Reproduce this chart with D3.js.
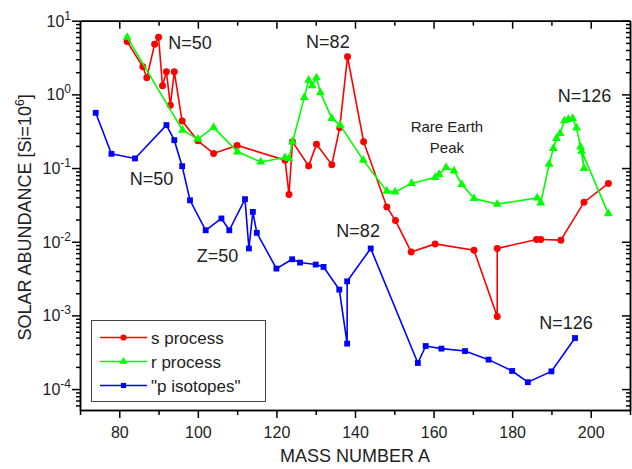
<!DOCTYPE html>
<html><head><meta charset="utf-8">
<script src="https://cdn.jsdelivr.net/npm/d3@7"></script>
<style>
body{margin:0;background:#fff}
svg{display:block;font-family:Arial,"Liberation Sans",Helvetica,sans-serif}
</style>
</head><body>
<svg id="chart" width="632" height="469"></svg>
<script>
// ---- data ----
const sMass   = [82, 86, 87, 89, 90, 91, 92, 93, 94, 96, 100, 104, 110, 122.2, 123.2, 124.1, 128.2, 130.2, 134.1, 136.1, 138.1, 142.2, 148.1, 150.3, 154.3, 160.4, 170.3, 176.2, 176.2, 186.2, 187.3, 192.4, 198.3, 204.5];
const sValues = [5.2, 2.37, 1.68, 4.78, 5.95, 1.31, 2.03, 0.71, 2.03, 0.434, 0.234, 0.158, 0.203, 0.128, 0.0438, 0.227, 0.107, 0.211, 0.111, 0.351, 3.24, 0.227, 0.0297, 0.0194, 0.00726, 0.00933, 0.00766, 0.000964, 0.0081, 0.0107, 0.0107, 0.0105, 0.0344, 0.0618];

const rMass   = [82, 96.1, 100, 104, 110.1, 116, 122.2, 123.2, 124.1, 127.1, 128.2, 129.1, 130.2, 131.2, 134.1, 136.2, 142.1, 148.1, 150.2, 154.4, 160.4, 161.4, 163.2, 165.2, 167.2, 170.3, 176.2, 186.4, 187.3, 189.4, 190.5, 191.3, 192.2, 193.3, 194.3, 195.4, 196.4, 197.4, 198.3, 197.7, 204.5];
const rValues = [5.95, 0.327, 0.247, 0.356, 0.166, 0.121, 0.139, 0.135, 0.227, 0.91, 1.56, 1.31, 1.68, 1.05, 0.472, 0.383, 0.128, 0.0485, 0.0475, 0.0618, 0.0745, 0.0819, 0.102, 0.0917, 0.0598, 0.0386, 0.0324, 0.0393, 0.0337, 0.113, 0.185, 0.252, 0.295, 0.438, 0.457, 0.472, 0.351, 0.194, 0.0989, 0.17, 0.0241];

const pMass   = [74, 78, 84, 92, 94, 96, 98, 102, 106, 108, 112, 113, 114, 115, 120, 124, 126, 130, 132, 136, 138, 138, 144, 156, 158, 162, 168, 174, 180, 184, 190, 196];
const pValues = [0.562, 0.156, 0.135, 0.383, 0.239, 0.106, 0.0365, 0.0143, 0.0207, 0.0143, 0.0378, 0.0081, 0.0254, 0.0132, 0.00432, 0.00578, 0.00521, 0.0049, 0.00455, 0.00224, 0.000414, 0.0029, 0.0081, 0.000226, 0.000384, 0.000354, 0.000328, 0.000251, 0.000176, 0.000124, 0.000174, 0.000493];

const xTicks      = [80, 100, 120, 140, 160, 180, 200];
const xMinorTicks = [70, 90, 110, 130, 150, 170, 190, 210];
const yExponents  = [1, 0, -1, -2, -3, -4];

const seriesNames  = ["s process", "r process", "\"p isotopes\""];
const seriesColors = ["#ff0000", "#00ff00", "#0000ff"];

const noteTexts  = ["N=50", "N=82", "N=126", "Rare Earth", "Peak", "N=50", "Z=50", "N=82", "N=126"];
const noteMass   = [98.0, 133.1, 198.4, 163.4, 163.4, 88.2, 105.0, 140.8, 193.7];
const noteValues = [4.98, 5.14, 0.978, 0.36, 0.192, 0.073, 0.00656, 0.0143, 0.000805];

// ---- layout ----
const L = 80, R = 630, T = 20.7, B = 410;
const svg = d3.select("#chart");
const x = d3.scaleLinear().domain([70, 210]).range([L, R]);
const y = d3.scaleLog().domain([5.2e-5, 10]).range([B, T]);

const yMinor = [];
for (let e = -5; e <= 0; e++) for (let m = 2; m <= 9; m++) {
  const v = m * Math.pow(10, e);
  if (v >= 5.2e-5 && v <= 10) yMinor.push(v);
}
const yMajor = yExponents.map(e => Math.pow(10, e));

// bottom axis
const gBottom = svg.append("g").attr("transform", `translate(0,${B})`)
  .call(d3.axisBottom(x).tickValues(xTicks).tickSize(8).tickSizeOuter(0).tickFormat(d3.format("d")));
gBottom.append("g").call(d3.axisBottom(x).tickValues(xMinorTicks).tickSize(5).tickSizeOuter(0).tickFormat(""));
// top axis (inward)
const gTop = svg.append("g").attr("transform", `translate(0,${T})`)
  .call(d3.axisBottom(x).tickValues(xTicks).tickSize(8).tickSizeOuter(0).tickFormat(""));
gTop.append("g").call(d3.axisBottom(x).tickValues(xMinorTicks.filter(d => d > 70 && d < 210)).tickSize(5).tickSizeOuter(0).tickFormat(""));
// left axis
const gLeft = svg.append("g").attr("transform", `translate(${L},0)`)
  .call(d3.axisLeft(y).tickValues(yMajor).tickSize(8).tickSizeOuter(0).tickFormat(""));
gLeft.append("g").call(d3.axisLeft(y).tickValues(yMinor).tickSize(4).tickSizeOuter(0).tickFormat(""));
// right axis (inward)
const gRight = svg.append("g").attr("transform", `translate(${R},0)`)
  .call(d3.axisLeft(y).tickValues(yMajor).tickSize(8).tickSizeOuter(0).tickFormat(""));
gRight.append("g").call(d3.axisLeft(y).tickValues(yMinor).tickSize(4).tickSizeOuter(0).tickFormat(""));

svg.selectAll(".domain").attr("stroke", "#000").attr("stroke-width", 1.5);
svg.selectAll(".tick line").attr("stroke", "#000").attr("stroke-width", 1.5);
gBottom.selectAll(".tick text").attr("font-size", 16).attr("font-family", "Arial, 'Liberation Sans', sans-serif").attr("fill", "#222").attr("dy", "1.05em");

// y tick labels with superscripts
const yl = svg.append("g").attr("font-size", 16).attr("fill", "#222");
yExponents.forEach(e => {
  const t = yl.append("text").attr("x", 71).attr("y", y(Math.pow(10, e)) + 6).attr("text-anchor", "end");
  t.append("tspan").text("10");
  t.append("tspan").attr("dy", -7).attr("font-size", 12).text(String(e));
});

// axis titles
svg.append("text").attr("x", (L + R) / 2).attr("y", 462).attr("text-anchor", "middle")
  .attr("font-size", 18).attr("fill", "#222").text("MASS NUMBER A");
const yt = svg.append("text").attr("transform", `translate(31,${(T + B) / 2 + 2}) rotate(-90)`)
  .attr("text-anchor", "middle").attr("font-size", 18).attr("fill", "#222");
yt.append("tspan").text("SOLAR ABUNDANCE [Si=10");
yt.append("tspan").attr("dy", -7).attr("font-size", 12).text("6");
yt.append("tspan").attr("dy", 7).text("]");

// series
const series = [
  {mass: sMass, vals: sValues, shape: d3.symbolCircle, size: 38},
  {mass: rMass, vals: rValues, shape: d3.symbolTriangle, size: 34},
  {mass: pMass, vals: pValues, shape: d3.symbolSquare, size: 34}
];
const line = d3.line().x(d => x(d[0])).y(d => y(d[1]));
series.forEach((s, i) => {
  const pts = s.mass.map((m, j) => [m, s.vals[j]]);
  const g = svg.append("g");
  g.append("path").attr("d", line(pts)).attr("fill", "none").attr("stroke", seriesColors[i]).attr("stroke-width", 1.6);
  g.selectAll("path.m").data(pts).join("path").attr("class", "m")
    .attr("transform", d => `translate(${x(d[0])},${y(d[1])})`)
    .attr("d", d3.symbol().type(s.shape).size(s.size)).attr("fill", seriesColors[i]);
});

// annotations
noteTexts.forEach((t, i) => {
  const small = (t === "Rare Earth" || t === "Peak");
  svg.append("text").attr("x", x(noteMass[i])).attr("y", y(noteValues[i]))
    .attr("dy", "0.36em").attr("text-anchor", "middle")
    .attr("font-size", small ? 15 : 18).attr("fill", "#222").text(t);
});

// legend
const lg = svg.append("g");
lg.append("rect").attr("x", 91.5).attr("y", 320.5).attr("width", 174).attr("height", 81)
  .attr("fill", "#fff").attr("stroke", "#444").attr("stroke-width", 1);
seriesNames.forEach((n, i) => {
  const yy = 337.5 + i * 24;
  lg.append("line").attr("x1", 100).attr("x2", 147).attr("y1", yy).attr("y2", yy)
    .attr("stroke", seriesColors[i]).attr("stroke-width", 1.6);
  lg.append("path").attr("transform", `translate(123.5,${yy})`)
    .attr("d", d3.symbol().type(series[i].shape).size(series[i].size * 0.8)).attr("fill", seriesColors[i]);
  lg.append("text").attr("x", 151).attr("y", yy + 6).attr("font-size", 17).attr("fill", "#222").text(n);
});
</script>
</body></html>
